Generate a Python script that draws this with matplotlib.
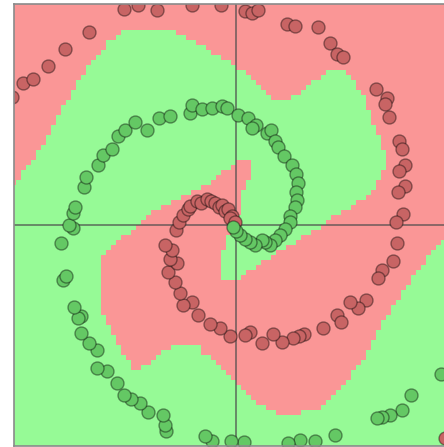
import numpy as np
import matplotlib
matplotlib.use("Agg")
import matplotlib.pyplot as plt
from matplotlib.path import Path
from matplotlib.colors import ListedColormap

# Training points of the two spiral classes
red_x = [-4.48, -4.26, -4.06, -3.76, -3.42, -2.94, -2.24, -1.96, -1.58, -0.88,
         -0.30, 0.18, 0.32, 0.44, 1.02, 1.18, 1.64, 1.88, 2.02, 2.14,
         2.80, 3.02, 2.98, 3.06, 3.26, 3.32, 3.38, 3.26, 3.38, 3.24,
         3.34, 3.20, 3.22, 3.14, 2.92, 2.84, 2.60, 2.44, 2.28, 2.02,
         2.10, 1.74, 1.36, 1.26, 1.14, 0.92, 0.74, 0.52, 0.28, 0.18,
         -0.12, -0.32, -0.52, -0.76, -0.88, -1.06,
         -1.12, -1.22, -1.36, -1.18, -1.32, -1.28, -1.42, -1.20, -1.14, -1.06,
         -0.96, -0.92, -0.78, -0.70, -0.58, -0.50, -0.42, -0.34, -0.28, -0.22,
         -0.16, -0.08, -0.12, -0.02, 4.18]
red_y = [2.56, 2.84, 2.92, 3.18, 3.52, 3.86, 4.32, 4.40, 4.30, 4.40,
         4.40, 4.28, 4.24, 4.30, 4.02, 3.98, 3.96, 3.64, 3.42, 3.36,
         2.72, 2.54, 2.42, 2.16, 1.68, 1.52, 1.20, 1.08, 0.78, 0.66,
         0.22, 0.06, -0.36, -0.72, -0.90, -1.06, -1.50, -1.66, -1.54, -1.80,
         -1.94, -2.06, -2.18, -2.22, -2.26, -2.34, -2.18, -2.36, -2.14, -2.20,
         -2.22, -2.06, -1.98, -1.80, -1.54, -1.60,
         -1.36, -1.14, -0.94, -0.76, -0.68, -0.50, -0.40, -0.10, 0.06, 0.20,
         0.32, 0.38, 0.48, 0.44, 0.52, 0.48, 0.44, 0.36, 0.40, 0.28,
         0.32, 0.18, 0.14, 0.06, -4.26]

green_x = [4.10, 3.50, 3.32, 3.08, 2.92, 2.82, 1.98, 1.58, 1.28, 1.04,
           0.16, -0.10, -0.48, -0.62, -1.40, -1.42, -1.46, -1.76, -1.92, -2.10,
           -2.24, -2.38, -2.58, -2.78, -2.78, -2.94, -3.10, -3.10, -3.16, -3.24,
           -3.46, -3.40, -3.50, -3.26, -3.34, -3.26, -3.22, -3.04, -3.00, -2.76,
           -2.66, -2.48, -2.36, -2.22, -2.02, -1.78, -1.54, -1.32, -0.92, -0.88,
           -0.68, -0.48, -0.28, -0.18, 0.04, 0.24, 0.40, 0.32, 0.62, 0.70,
           0.78, 0.84, 0.96, 1.12, 1.20, 1.24, 1.20, 1.22, 1.18, 1.08,
           1.08, 0.98, 0.88, 0.78, 0.68, 0.58, 0.52, 0.38, 0.28, 0.18,
           0.08, 0.00, -0.06]
green_y = [-2.98, -3.40, -3.70, -3.80, -3.84, -3.86, -4.20, -4.32, -4.30, -4.36,
           -4.34, -4.32, -4.32, -4.22, -4.12, -4.00, -3.80, -3.74, -3.56, -3.48,
           -3.40, -3.16, -2.92, -2.86, -2.50, -2.36, -2.16, -1.82, -1.86, -1.64,
           -1.10, -1.02, -0.36, -0.06, 0.00, 0.24, 0.36, 0.76, 0.96, 1.20,
           1.40, 1.52, 1.78, 1.90, 2.06, 1.90, 2.14, 2.18, 2.24, 2.40,
           2.32, 2.34, 2.38, 2.34, 2.20, 2.14, 2.00, 1.94, 1.84, 1.90,
           1.68, 1.56, 1.38, 1.20, 1.02, 0.84, 0.66, 0.50, 0.36, 0.18,
           0.06, -0.08, -0.20, -0.30, -0.40, -0.34, -0.30, -0.40, -0.34, -0.28,
           -0.20, -0.12, -0.04]

# Outline of the region the classifier assigns to the red class
red_region_x = [-4.44, -4.22, -3.92, -3.62, -3.38, -2.98, -2.52, -2.16, -1.42, -0.72,
                -0.06, 0.38, 0.78, 1.08, 1.28, 1.68, 2.02, 2.28, 2.48, 2.64,
                2.74, 2.88, 2.96, 2.98, 2.88, 2.68, 2.28, 1.94, 1.72, 0.82,
                0.02, -0.02, -0.32, -0.32, -0.28, -0.22, -0.16, -0.12, 0.04, 0.08,
                0.14, 0.24, 0.32, 0.32, 0.02, -0.26, -0.52, -0.78, -0.92, -1.32,
                -1.72, -1.96, -2.26, -2.66, -2.72, -2.72, -2.66, -2.52, -2.36, -2.18,
                -2.06, -1.88, -1.72, -1.32, -0.78, -0.72, -0.38, -0.06, 0.28, 0.64,
                0.82, 1.28, 1.64, 1.94, 2.28, 2.62, 2.82, 3.02, 3.22, 3.38,
                3.58, 3.78, 3.98, 4.16, 4.60, 4.60, -4.60, -4.60]
red_region_y = [0.80, 1.10, 1.50, 2.10, 2.50, 3.16, 3.70, 3.94, 3.94, 3.60,
                3.20, 2.90, 2.50, 2.50, 2.66, 2.96, 3.16, 2.96, 2.70, 2.36,
                2.04, 1.70, 1.46, 1.16, 0.90, 0.64, 0.36, 0.16, -0.02, -0.56,
                -1.10, -1.14, -1.14, -0.80, -0.60, -0.40, -0.20, -0.04, 0.16, 0.36,
                0.64, 0.84, 1.00, 1.26, 1.26, 1.06, 0.86, 0.70, 0.64, 0.46,
                0.24, 0.00, -0.24, -0.56, -0.70, -1.50, -1.80, -2.04, -2.36, -2.70,
                -2.86, -2.86, -2.74, -2.44, -2.36, -2.50, -2.76, -3.14, -3.44, -3.70,
                -3.76, -3.76, -3.70, -3.44, -3.04, -2.56, -2.16, -1.80, -1.50, -1.30,
                -1.00, -0.74, -0.46, -0.26, -0.26, 4.60, 4.60, 0.80]

RED_BG = (250 / 255, 150 / 255, 150 / 255)
GREEN_BG = (150 / 255, 250 / 255, 150 / 255)
RED_PT = (200 / 255, 100 / 255, 100 / 255)
GREEN_PT = (100 / 255, 200 / 255, 100 / 255)

# Rasterise the decision regions on a coarse grid
step = 0.1
edges_x = np.arange(-4.6, 4.6 + step / 2, step)
edges_y = np.arange(-4.6, 4.6 + step / 2, step)
cx = (edges_x[:-1] + edges_x[1:]) / 2
cy = (edges_y[:-1] + edges_y[1:]) / 2
gx, gy = np.meshgrid(cx, cy)
region = Path(np.column_stack((red_region_x, red_region_y)))
inside = region.contains_points(np.column_stack((gx.ravel(), gy.ravel())))
labels = inside.reshape(gx.shape).astype(float)

fig = plt.figure(figsize=(4.44, 4.47), dpi=100)
ax = fig.add_axes([13.5 / 444, 1.5 / 447, 1 - 13.5 / 444, 441 / 447])

ax.pcolormesh(edges_x, edges_y, labels, cmap=ListedColormap([GREEN_BG, RED_BG]),
              vmin=0, vmax=1, shading="flat", zorder=0)

ax.axhline(0, color=(0.3, 0.3, 0.3), alpha=0.7, lw=1.3, zorder=1)
ax.axvline(0, color=(0.3, 0.3, 0.3), alpha=0.7, lw=1.3, zorder=1)

ax.scatter(red_x, red_y, s=88, c=[RED_PT], edgecolors=(0, 0, 0, 0.4),
           linewidths=1.0, zorder=2)
ax.scatter(green_x, green_y, s=88, c=[GREEN_PT], edgecolors=(0, 0, 0, 0.4),
           linewidths=1.0, zorder=2)

ax.set_xlim(-4.45, 4.16)
ax.set_ylim(-4.41, 4.41)
ax.set_xticks([])
ax.set_yticks([])
for side in ["left", "top", "bottom"]:
    ax.spines[side].set_color("#8a8a8a")
    ax.spines[side].set_linewidth(1.2)
ax.spines["right"].set_visible(False)

fig.savefig("out.png", dpi=100)
